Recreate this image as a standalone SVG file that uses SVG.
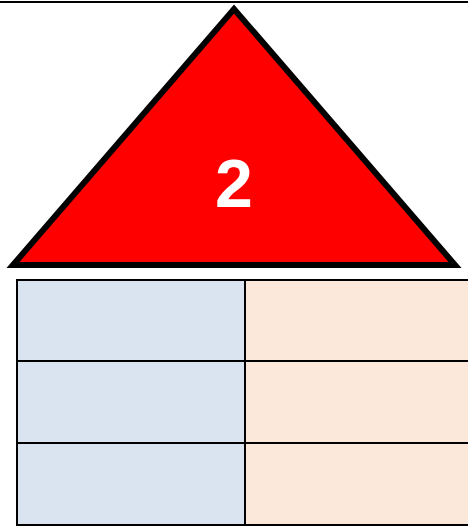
<svg xmlns="http://www.w3.org/2000/svg" width="468" height="527" viewBox="0 0 468 527">
<style>
.cell{stroke:#000;stroke-width:2}
.b{fill:#dae3f0}
.p{fill:#fce8da}
</style>
<rect width="468" height="527" fill="#fff"/>
<line x1="0" y1="2" x2="468" y2="2" stroke="#000" stroke-width="2"/>
<g id="triangle">
<polygon points="13,265 234,9 455,265" fill="#ff0000" stroke="#000" stroke-width="6" stroke-linejoin="miter"/>
<text x="234" y="207" text-anchor="middle" font-family="Liberation Sans, Arial, sans-serif" font-weight="bold" font-size="68" fill="#fff">2</text>
</g>
<g id="table">
<rect class="cell b" x="17" y="280" width="228" height="81"/>
<rect class="cell p" x="245" y="280" width="230" height="81"/>
<rect class="cell b" x="17" y="361" width="228" height="82"/>
<rect class="cell p" x="245" y="361" width="230" height="82"/>
<rect class="cell b" x="17" y="443" width="228" height="82"/>
<rect class="cell p" x="245" y="443" width="230" height="82"/>
</g>
</svg>
